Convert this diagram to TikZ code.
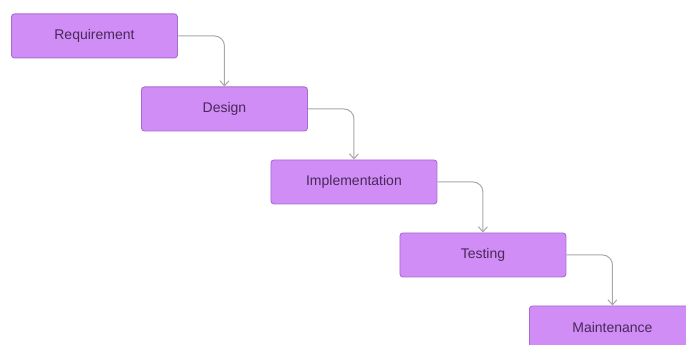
\documentclass[tikz,border=0pt]{standalone}
\usepackage{fontspec}
\setmainfont{Liberation Sans}
\usetikzlibrary{arrows.meta}
\definecolor{boxfill}{HTML}{D08DF6}
\definecolor{boxline}{HTML}{A86BD0}
\definecolor{boxtext}{HTML}{4A2858}
\definecolor{arrowc}{HTML}{A8A8A8}
\begin{document}
\begin{tikzpicture}[x=1pt,y=-1pt,
  stepbox/.style={draw=boxline,fill=boxfill,line width=0.9pt,rounded corners=3pt,
    minimum width=166pt,minimum height=44pt,inner sep=0pt,anchor=north west,
    text=boxtext,font=\fontsize{14}{16}\selectfont},
  flow/.style={draw=arrowc,line width=1pt,rounded corners=10pt,
    -{Straight Barb[length=5pt,width=9pt,line width=1pt]}}]
\useasboundingbox (0,0) rectangle (686,345);
\begin{scope}
\clip (0,0) rectangle (686,345);
\node[stepbox] (req) at (11,13.5) {Requirement};
\node[stepbox] (des) at (141,86.5) {Design};
\node[stepbox] (imp) at (270.5,159.5) {Implementation};
\node[stepbox] (tes) at (399.5,232.5) {Testing};
\node[stepbox] (mai) at (529,305.5) {Maintenance};
\draw[flow] (req.east) -| (des.north);
\draw[flow] (des.east) -| (imp.north);
\draw[flow] (imp.east) -| (tes.north);
\draw[flow] (tes.east) -| (mai.north);
\end{scope}
\end{tikzpicture}
\end{document}
